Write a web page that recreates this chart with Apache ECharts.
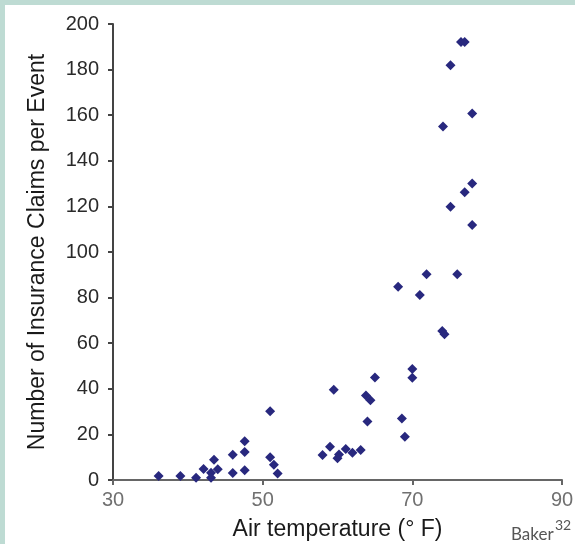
<!DOCTYPE html>
<html>
<head>
<meta charset="utf-8">
<script src="https://cdn.jsdelivr.net/npm/echarts@6/dist/echarts.min.js"></script>
<style>
html,body{margin:0;padding:0;width:575px;height:544px;background:#bedbd3;overflow:hidden;}
#c{position:absolute;left:5px;top:5px;width:570px;height:539px;background:#ffffff;}
</style>
</head>
<body>
<div id="c"></div>
<script>
// Air temperature (°F)
const temperatures = [36.1, 39.0, 41.1, 42.1, 43.1, 43.1, 43.5, 44.0, 46.0, 46.0, 47.6, 47.6, 47.6,
  51.0, 51.0, 51.5, 52.0,
  58.0, 59.0, 60.0, 60.2, 61.1, 62.0, 63.1, 59.5, 64.0, 63.8, 64.4, 65.0,
  68.6, 69.0, 70.0, 70.0, 68.1, 71.0, 71.9, 76.0, 74.0, 74.3,
  76.5, 77.0, 75.1, 78.0, 74.1, 78.0, 77.0, 75.1, 78.0];
// Number of insurance claims per event
const claims = [1.8, 1.8, 1.0, 4.8, 3.2, 1.0, 8.9, 4.7, 11.1, 3.1, 17.0, 12.3, 4.3,
  30.1, 10.0, 6.7, 2.9,
  11.0, 14.6, 9.5, 11.2, 13.6, 12.0, 13.2, 39.6, 25.7, 37.1, 35.0, 45.0,
  27.0, 19.0, 48.7, 44.9, 84.8, 81.1, 90.2, 90.2, 65.4, 63.9,
  192.1, 192.1, 181.9, 160.7, 155.0, 130.0, 126.2, 119.9, 111.8];
const xTicks = [30, 50, 70, 90];
const yTicks = [0, 20, 40, 60, 80, 100, 120, 140, 160, 180, 200];
const xTitle = 'Air temperature (\u00b0 F)';
const yTitle = 'Number of Insurance Claims per Event';
const sourceName = 'Baker';
const sourceRef = '32';

const points = temperatures.map((t, i) => [t, claims[i]]);

const chart = echarts.init(document.getElementById('c'), null, {renderer: 'canvas'});
chart.setOption({
  animation: false,
  backgroundColor: '#ffffff',
  grid: {left: 108, right: 13, top: 19, bottom: 64, containLabel: false, outerBoundsMode: 'none'},
  xAxis: {
    type: 'value',
    min: xTicks[0], max: xTicks[xTicks.length - 1], interval: 20,
    name: xTitle, nameLocation: 'middle', nameGap: 38,
    nameTextStyle: {fontFamily: 'Liberation Sans', fontSize: 23, color: '#1a1a1a'},
    axisLine: {show: true, onZero: false, lineStyle: {color: '#666666', width: 2}},
    axisTick: {show: true, inside: false, length: 5, lineStyle: {color: '#666666', width: 2}},
    axisLabel: {fontFamily: 'Liberation Sans', fontSize: 20, color: '#707070', margin: 10},
    splitLine: {show: false}
  },
  yAxis: {
    type: 'value',
    min: yTicks[0], max: yTicks[yTicks.length - 1], interval: 20,
    name: yTitle, nameLocation: 'middle', nameGap: 64,
    nameTextStyle: {fontFamily: 'Liberation Sans', fontSize: 23, color: '#1a1a1a'},
    axisLine: {show: true, lineStyle: {color: '#444444', width: 2}},
    axisTick: {show: true, inside: false, length: 5, lineStyle: {color: '#444444', width: 2}},
    axisLabel: {fontFamily: 'Liberation Sans', fontSize: 20, color: '#2a2a2a', margin: 14},
    splitLine: {show: false}
  },
  series: [{
    type: 'scatter',
    data: points,
    symbol: 'diamond',
    symbolSize: 10,
    itemStyle: {color: '#28287e', opacity: 1}
  }],
  graphic: [
    {type: 'text', left: 506, top: 521,
      style: {text: sourceName, font: '17px Lato', fill: '#555555'}},
    {type: 'text', left: 550, top: 513,
      style: {text: sourceRef, font: '14px Lato', fill: '#555555'}}
  ]
});
</script>
</body>
</html>
